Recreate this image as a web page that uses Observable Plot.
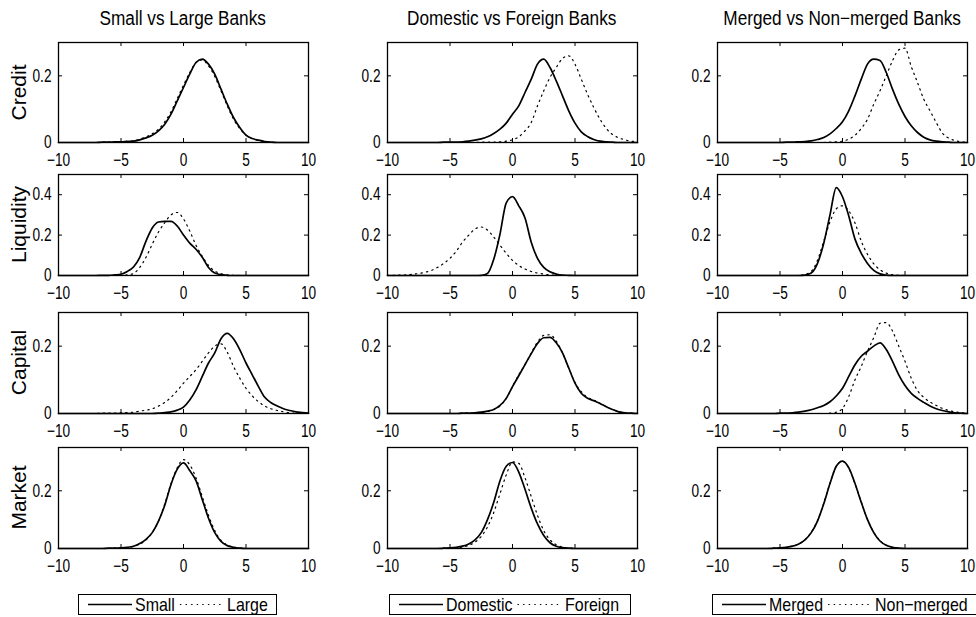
<!DOCTYPE html>
<html><head><meta charset="utf-8">
<script src="https://cdn.jsdelivr.net/npm/d3@7"></script>
<script src="https://cdn.jsdelivr.net/npm/@observablehq/plot@0.6"></script>
<style>
html,body{margin:0;padding:0;background:#fff;}
#root{position:relative;width:976px;height:617px;overflow:hidden;font-family:"Liberation Sans",Arial,sans-serif;color:#000;}
.panel{position:absolute;}
.panel svg{max-width:none !important;}
.title{position:absolute;width:320px;text-align:center;font-size:20px;line-height:20px;white-space:nowrap;}
.title span{display:inline-block;transform:scaleX(0.86);transform-origin:center;}
.rowlab{position:absolute;width:120px;text-align:center;font-size:21px;line-height:21px;white-space:nowrap;transform:rotate(-90deg);transform-origin:center;}
.legend{position:absolute;border:1px solid #000;background:#fff;height:21px;box-sizing:border-box;}
.legend svg{position:absolute;left:0;top:0;overflow:visible;}
.legtext{position:absolute;top:0px;font-size:19px;line-height:19px;white-space:nowrap;transform:scaleX(0.84);transform-origin:left center;}
</style></head><body><div id="root"></div>
<script>
// ---------- data ----------
const columnTitles = ["Small vs Large Banks", "Domestic vs Foreign Banks", "Merged vs Non\u2212merged Banks"];
const rowLabels = ["Credit", "Liquidity", "Capital", "Market"];
const seriesNames = [["Small", "Large"], ["Domestic", "Foreign"], ["Merged", "Non\u2212merged"]];
const xTicks = [-10, -5, 0, 5, 10];
const yTicksByRow = [[0, 0.2], [0, 0.2, 0.4], [0, 0.2], [0, 0.2]];
const yMaxByRow = [0.3, 0.5, 0.3, 0.35];

const xGrid = [-10, -9.5, -9, -8.5, -8, -7.5, -7, -6.5, -6, -5.5,
  -5, -4.5, -4, -3.5, -3, -2.5, -2, -1.5, -1, -0.5,
  0, 0.5, 1, 1.5, 2, 2.5, 3, 3.5, 4, 4.5,
  5, 5.5, 6, 6.5, 7, 7.5, 8, 8.5, 9, 9.5, 10];

// Credit
const creditSmall = [0,0,0,0,0,0,0,0.001,0.001,0.002,
  0.002,0.003,0.004,0.008,0.014,0.022,0.035,0.055,0.085,0.125,
  0.165,0.205,0.24,0.25,0.235,0.205,0.16,0.115,0.075,0.045,
  0.022,0.012,0.007,0.003,0.001,0,0,0,0,0, 0];
const creditLarge = [0,0,0,0,0,0,0,0.001,0.001,0.002,
  0.003,0.004,0.005,0.01,0.017,0.026,0.04,0.062,0.092,0.132,
  0.172,0.21,0.24,0.248,0.23,0.198,0.155,0.11,0.07,0.042,
  0.022,0.012,0.006,0.003,0.001,0,0,0,0,0, 0];
const creditDomestic = [0,0,0,0,0,0,0,0,0,0.001,
  0.001,0.001,0.002,0.004,0.007,0.011,0.017,0.027,0.04,0.058,
  0.085,0.11,0.15,0.19,0.235,0.25,0.225,0.185,0.14,0.095,
  0.058,0.032,0.018,0.009,0.004,0.002,0.001,0,0,0, 0];
const creditForeign = [0,0,0,0,0,0,0,0,0,0,
  0,0,0,0,0,0.001,0.001,0.001,0.002,0.004,
  0.008,0.017,0.035,0.06,0.11,0.155,0.195,0.225,0.252,0.26,
  0.235,0.19,0.145,0.105,0.07,0.042,0.024,0.014,0.008,0.004, 0.002];
const creditMerged = [0,0,0,0,0,0,0,0,0,0,
  0,0.001,0.001,0.002,0.003,0.005,0.009,0.015,0.026,0.042,
  0.062,0.095,0.14,0.19,0.235,0.25,0.246,0.21,0.16,0.115,
  0.078,0.05,0.03,0.016,0.008,0.004,0.002,0.001,0,0, 0];
const creditNonMerged = [0,0,0,0,0,0,0,0,0,0,
  0,0,0,0,0,0,0,0,0.001,0.002,
  0.004,0.01,0.022,0.042,0.07,0.115,0.155,0.2,0.245,0.278,
  0.283,0.228,0.18,0.13,0.095,0.06,0.028,0.013,0.006,0.002, 0.001];

// Liquidity
const liqSmall = [0,0,0,0,0,0,0,0.001,0.001,0.003,
  0.006,0.02,0.042,0.09,0.17,0.235,0.265,0.268,0.268,0.245,
  0.2,0.16,0.13,0.09,0.04,0.012,0.004,0.001,0,0,
  0,0,0,0,0,0,0,0,0,0, 0];
const liqLarge = [0,0,0,0,0,0,0,0,0,0,
  0.001,0.003,0.01,0.04,0.09,0.155,0.215,0.262,0.3,0.312,
  0.28,0.22,0.15,0.095,0.05,0.022,0.009,0.003,0.001,0,
  0,0,0,0,0,0,0,0,0,0, 0];
const liqDomestic = [0,0,0,0,0,0,0,0,0,0,
  0,0,0,0,0,0.001,0.01,0.08,0.205,0.36,
  0.39,0.345,0.285,0.165,0.085,0.04,0.018,0.007,0.002,0.001,
  0,0,0,0,0,0,0,0,0,0, 0];
const liqForeign = [0,0.001,0.002,0.003,0.006,0.01,0.016,0.025,0.04,0.06,
  0.085,0.12,0.165,0.2,0.23,0.24,0.225,0.19,0.15,0.11,
  0.075,0.05,0.032,0.02,0.012,0.007,0.003,0.001,0,0,
  0,0,0,0,0,0,0,0,0,0, 0];
const liqMerged = [0,0,0,0,0,0,0,0,0,0,
  0,0,0,0,0.002,0.012,0.06,0.16,0.3,0.435,
  0.39,0.295,0.18,0.11,0.06,0.025,0.008,0.002,0,0,
  0,0,0,0,0,0,0,0,0,0, 0];
const liqNonMerged = [0,0,0,0,0,0,0,0,0,0,
  0,0,0,0,0.006,0.02,0.075,0.17,0.265,0.33,
  0.345,0.32,0.26,0.17,0.105,0.058,0.028,0.012,0.004,0.001,
  0,0,0,0,0,0,0,0,0,0, 0];

// Capital
const capSmall = [0,0,0,0,0,0,0,0,0,0,
  0,0,0,0,0,0,0.001,0.003,0.005,0.01,
  0.019,0.04,0.07,0.11,0.15,0.18,0.222,0.238,0.222,0.19,
  0.15,0.115,0.08,0.048,0.032,0.022,0.014,0.009,0.005,0.003, 0.001];
const capLarge = [0,0,0,0,0,0,0,0.001,0.001,0.001,
  0.002,0.003,0.004,0.007,0.01,0.014,0.022,0.033,0.048,0.068,
  0.09,0.11,0.13,0.155,0.18,0.2,0.207,0.182,0.14,0.105,
  0.075,0.052,0.035,0.022,0.014,0.009,0.005,0.002,0.001,0, 0];
const capDomestic = [0,0,0,0,0,0,0,0,0,0,
  0,0,0.001,0.001,0.002,0.004,0.007,0.012,0.024,0.045,
  0.08,0.112,0.145,0.178,0.208,0.225,0.226,0.21,0.18,0.135,
  0.09,0.06,0.045,0.038,0.03,0.02,0.012,0.005,0.002,0.001, 0];
const capForeign = [0,0,0,0,0,0,0,0,0,0,
  0,0,0.001,0.001,0.002,0.003,0.006,0.012,0.022,0.045,
  0.08,0.115,0.145,0.18,0.212,0.232,0.234,0.215,0.18,0.135,
  0.092,0.065,0.048,0.04,0.03,0.02,0.012,0.006,0.002,0.001, 0];
const capMerged = [0,0,0,0,0,0,0,0,0,0,
  0.001,0.001,0.002,0.004,0.007,0.011,0.017,0.024,0.035,0.052,
  0.075,0.11,0.145,0.17,0.185,0.2,0.21,0.19,0.155,0.115,
  0.083,0.06,0.045,0.033,0.022,0.014,0.009,0.005,0.002,0.001, 0];
const capNonMerged = [0,0,0,0,0,0,0,0,0,0,
  0,0,0,0,0,0,0,0,0.001,0.004,
  0.015,0.05,0.1,0.14,0.185,0.225,0.268,0.27,0.245,0.2,
  0.155,0.105,0.068,0.048,0.034,0.024,0.015,0.009,0.005,0.002, 0.001];

// Market
const mktSmall = [0,0,0,0,0,0,0,0,0.001,0.001,
  0.002,0.004,0.008,0.017,0.032,0.055,0.095,0.15,0.222,0.275,
  0.297,0.27,0.235,0.17,0.105,0.055,0.025,0.01,0.004,0.001,
  0,0,0,0,0,0,0,0,0,0, 0];
const mktLarge = [0,0,0,0,0,0,0,0,0,0.001,
  0.001,0.003,0.007,0.015,0.03,0.055,0.095,0.155,0.225,0.28,
  0.308,0.29,0.245,0.18,0.115,0.062,0.028,0.012,0.005,0.002,
  0,0,0,0,0,0,0,0,0,0, 0];
const mktDomestic = [0,0,0,0,0,0,0,0,0,0.001,
  0.002,0.004,0.008,0.016,0.03,0.055,0.1,0.16,0.235,0.285,
  0.298,0.265,0.205,0.14,0.085,0.045,0.02,0.008,0.003,0.001,
  0,0,0,0,0,0,0,0,0,0, 0];
const mktForeign = [0,0,0,0,0,0,0,0,0,0.001,
  0.001,0.002,0.005,0.011,0.022,0.042,0.075,0.125,0.19,0.255,
  0.3,0.295,0.245,0.18,0.115,0.062,0.03,0.013,0.005,0.002,
  0,0,0,0,0,0,0,0,0,0, 0];
const mktMerged = [0,0,0,0,0,0,0,0,0,0.001,
  0.002,0.004,0.008,0.016,0.03,0.055,0.095,0.155,0.225,0.285,
  0.303,0.28,0.225,0.16,0.1,0.055,0.026,0.011,0.004,0.001,
  0,0,0,0,0,0,0,0,0,0, 0];
const mktNonMerged = [0,0,0,0,0,0,0,0,0,0.001,
  0.002,0.004,0.008,0.016,0.031,0.056,0.097,0.157,0.227,0.285,
  0.302,0.279,0.225,0.161,0.101,0.056,0.027,0.011,0.004,0.001,
  0,0,0,0,0,0,0,0,0,0, 0];

const solidSeries = [
  [creditSmall, creditDomestic, creditMerged],
  [liqSmall, liqDomestic, liqMerged],
  [capSmall, capDomestic, capMerged],
  [mktSmall, mktDomestic, mktMerged]
];
const dottedSeries = [
  [creditLarge, creditForeign, creditNonMerged],
  [liqLarge, liqForeign, liqNonMerged],
  [capLarge, capForeign, capNonMerged],
  [mktLarge, mktForeign, mktNonMerged]
];

// ---------- layout ----------
const root = document.getElementById("root");
const colLeft = [58, 387, 717];
const frameW = 250;
const rowTop = [42, 174, 312, 447];
const rowH = [100, 101, 101, 101];
const mL = 40, mR = 20, mT = 6, mB = 30;
const FONT = '"Liberation Sans", Arial, sans-serif';
const DOTS = "1.4,4.2";

function condense(svg, k) {
  svg.querySelectorAll('g[aria-label="x-axis tick label"] text, g[aria-label="y-axis tick label"] text').forEach(t => {
    const tr = t.getAttribute("transform") || "";
    t.setAttribute("transform", tr + ` scale(${k},1)`);
  });
}

for (let r = 0; r < 4; r++) {
  for (let c = 0; c < 3; c++) {
    const H = rowH[r];
    const sol = solidSeries[r][c], dot = dottedSeries[r][c];
    const data = xGrid.map((x, i) => ({x, a: sol[i], b: dot[i]}));
    const yT = yTicksByRow[r];
    const svg = Plot.plot({
      width: frameW + mL + mR, height: H + mT + mB,
      marginLeft: mL, marginRight: mR, marginTop: mT, marginBottom: mB,
      style: {fontFamily: FONT, fontSize: "18px", background: "transparent", overflow: "visible", color: "#000"},
      x: {domain: [-10, 10], label: null},
      y: {domain: [0, yMaxByRow[r]], label: null},
      marks: [
        Plot.axisX(xTicks, {tickSize: 0, tickPadding: 11, fill: "#000"}),
        Plot.axisY(yT, {tickSize: 0, tickPadding: 7, fill: "#000", tickFormat: d => d === 0 ? "0" : String(d)}),
        Plot.ruleX(xTicks, {insetTop: H - 4, stroke: "#000", strokeWidth: 1}),
        Plot.ruleX(xTicks, {insetBottom: H - 4, stroke: "#000", strokeWidth: 1}),
        Plot.ruleY(yT, {insetRight: frameW - 4, stroke: "#000", strokeWidth: 1}),
        Plot.ruleY(yT, {insetLeft: frameW - 4, stroke: "#000", strokeWidth: 1}),
        Plot.line(data, {x: "x", y: "b", stroke: "#000", strokeWidth: 1.2, strokeDasharray: DOTS, curve: "monotone-x"}),
        Plot.line(data, {x: "x", y: "a", stroke: "#000", strokeWidth: 1.7, curve: "monotone-x"}),
        Plot.frame({stroke: "#000", strokeWidth: 1.3})
      ]
    });
    svg.style.maxWidth = "none";
    condense(svg, 0.76);
    const wrap = document.createElement("div");
    wrap.className = "panel";
    wrap.style.left = (colLeft[c] - mL) + "px";
    wrap.style.top = (rowTop[r] - mT) + "px";
    wrap.style.width = (frameW + mL + mR) + "px";
    wrap.appendChild(svg);
    root.appendChild(wrap);
  }
}

// column titles
columnTitles.forEach((t, c) => {
  const d = document.createElement("div");
  d.className = "title";
  d.style.left = (colLeft[c] + frameW / 2 - 160) + "px";
  d.style.top = "8px";
  const s = document.createElement("span");
  s.textContent = t;
  d.appendChild(s);
  root.appendChild(d);
});

// row labels
rowLabels.forEach((t, r) => {
  const d = document.createElement("div");
  d.className = "rowlab";
  d.textContent = t;
  const cy = rowTop[r] + rowH[r] / 2;
  d.style.left = (18 - 60) + "px";
  d.style.top = (cy - 10.5) + "px";
  root.appendChild(d);
});

// legends
const legendBoxes = [[78, 199], [389, 242], [712, 280]];
seriesNames.forEach((names, c) => {
  const [lx, lw] = legendBoxes[c];
  const box = document.createElement("div");
  box.className = "legend";
  box.style.left = lx + "px";
  box.style.top = "594px";
  box.style.width = lw + "px";
  root.appendChild(box);
  const svgNS = "http://www.w3.org/2000/svg";
  const s = document.createElementNS(svgNS, "svg");
  s.setAttribute("width", lw); s.setAttribute("height", 20);
  box.appendChild(s);
  let x = 9;
  names.forEach((n, k) => {
    const ln = document.createElementNS(svgNS, "line");
    ln.setAttribute("x1", x); ln.setAttribute("x2", x + 44);
    ln.setAttribute("y1", 9.5); ln.setAttribute("y2", 9.5);
    ln.setAttribute("stroke", "#000");
    ln.setAttribute("stroke-width", k === 0 ? 1.7 : 1.2);
    if (k === 1) ln.setAttribute("stroke-dasharray", DOTS);
    s.appendChild(ln);
    const tx = document.createElement("div");
    tx.className = "legtext";
    tx.style.left = (x + 47) + "px";
    tx.textContent = n;
    box.appendChild(tx);
    const w = tx.getBoundingClientRect().width;
    x += 47 + w + 5;
  });
});
</script>
</body></html>
